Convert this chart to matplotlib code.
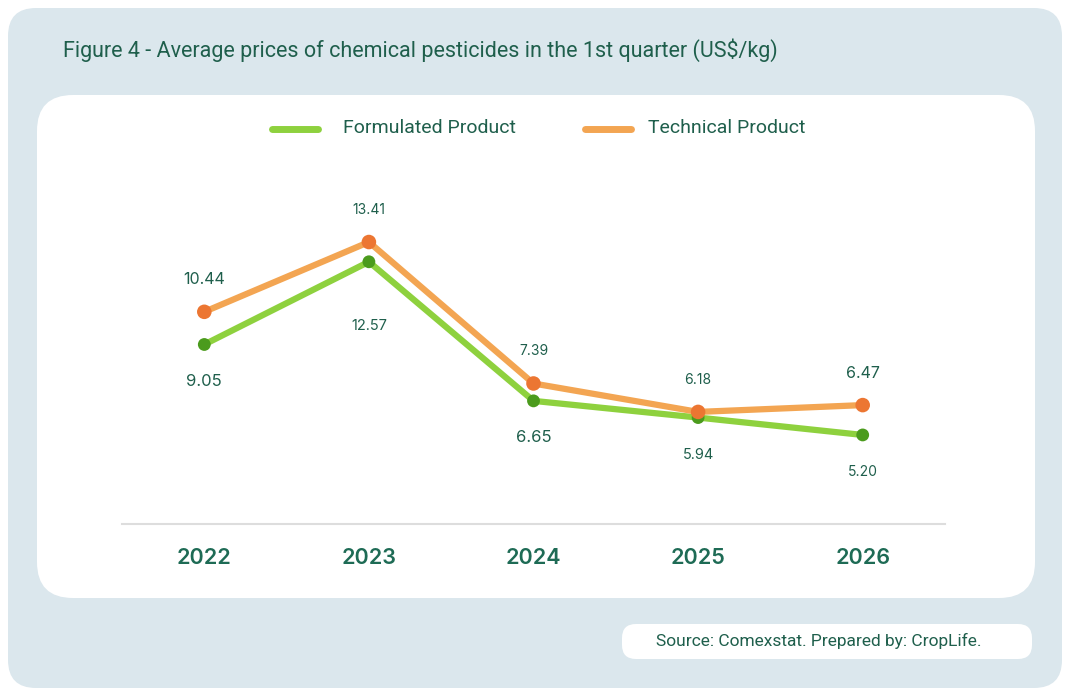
import matplotlib.pyplot as plt
from matplotlib.patches import FancyBboxPatch
from matplotlib.lines import Line2D

# data
years = ['2022', '2023', '2024', '2025', '2026']
formulated = [9.05, 12.57, 6.65, 5.94, 5.20]
technical = [10.44, 13.41, 7.39, 6.18, 6.47]
form_size = [12, 10.5, 12, 10.5, 10]
tech_size = [11.5, 10, 10, 10, 11.5]

W, H = 1075, 697
green_line = '#8ed13e'
green_dot = '#4b9b1d'
orange_line = '#f3a552'
orange_dot = '#ec7632'
txt = '#1f5f4c'
panel = '#dbe7ed'

plt.rcParams['font.family'] = ['Roboto', 'DejaVu Sans']

fig = plt.figure(figsize=(W / 100, H / 100), dpi=100)
fig.patch.set_facecolor('white')

# background panels in pixel coords
bg = fig.add_axes([0, 0, 1, 1])
bg.set_xlim(0, W)
bg.set_ylim(H, 0)
bg.axis('off')
bg.add_patch(FancyBboxPatch((8, 8), 1054, 680, boxstyle='round,pad=0,rounding_size=28',
                            fc=panel, ec='none'))
bg.add_patch(FancyBboxPatch((37, 95), 998, 503, boxstyle='round,pad=0,rounding_size=36',
                            fc='white', ec='none'))
bg.add_patch(FancyBboxPatch((622, 624), 410, 35, boxstyle='round,pad=0,rounding_size=14',
                            fc='white', ec='none'))
bg.text(63, 50, 'Figure 4 - Average prices of chemical pesticides in the 1st quarter (US$/kg)',
        fontsize=15.5, color=txt, va='center', ha='left')
bg.text(819, 641, 'Source: Comexstat. Prepared by: CropLife.', fontsize=12.5, color=txt,
        va='center', ha='center')

# legend
bg.add_line(Line2D([272, 318], [129, 129], color=green_line, lw=5, solid_capstyle='round'))
bg.text(343, 128, 'Formulated Product', fontsize=14, color=txt, va='center')
bg.add_line(Line2D([585, 631], [129, 129], color=orange_line, lw=5, solid_capstyle='round'))
bg.text(648, 128, 'Technical Product', fontsize=14, color=txt, va='center')

# chart axes: x 122..945, y 180..524 px
left, right, top, bottom = 122, 945, 180, 524
ax = fig.add_axes([left / W, 1 - bottom / H, (right - left) / W, (bottom - top) / H])
ax.set_facecolor('none')
x = range(len(years))
ax.plot(x, formulated, color=green_line, lw=4.5, zorder=2)
ax.plot(x, technical, color=orange_line, lw=4.5, zorder=3)
ax.scatter(x, formulated, s=85, color=green_dot, zorder=4, edgecolors='none')
ax.scatter(x, technical, s=110, color=orange_dot, zorder=5, edgecolors='none')

ax.set_xlim(-0.5, 4.5)
ax.set_ylim(1.41, 16.05)

lab_font = ['Inter', 'DejaVu Sans']
for i, v in enumerate(formulated):
    off = -64 if i == 1 else -37
    ax.annotate(f'{v:.2f}', (i, v), xytext=(0, off * 0.72), textcoords='offset points',
                ha='center', va='center', fontsize=form_size[i], color=txt, family=lab_font)
for i, v in enumerate(technical):
    ax.annotate(f'{v:.2f}', (i, v), xytext=(0, 32 * 0.72), textcoords='offset points',
                ha='center', va='center', fontsize=tech_size[i], color=txt, family=lab_font)

ax.set_xticks(list(x))
ax.set_xticklabels(years, fontsize=15.5, color='#1e6b55', fontweight='semibold', family=lab_font)
ax.tick_params(axis='x', length=0, pad=17)
ax.set_yticks([])
for s in ['top', 'left', 'right']:
    ax.spines[s].set_visible(False)
ax.spines['bottom'].set_color('#dddddd')
ax.spines['bottom'].set_linewidth(1.5)

fig.savefig('out.png', dpi=100)
